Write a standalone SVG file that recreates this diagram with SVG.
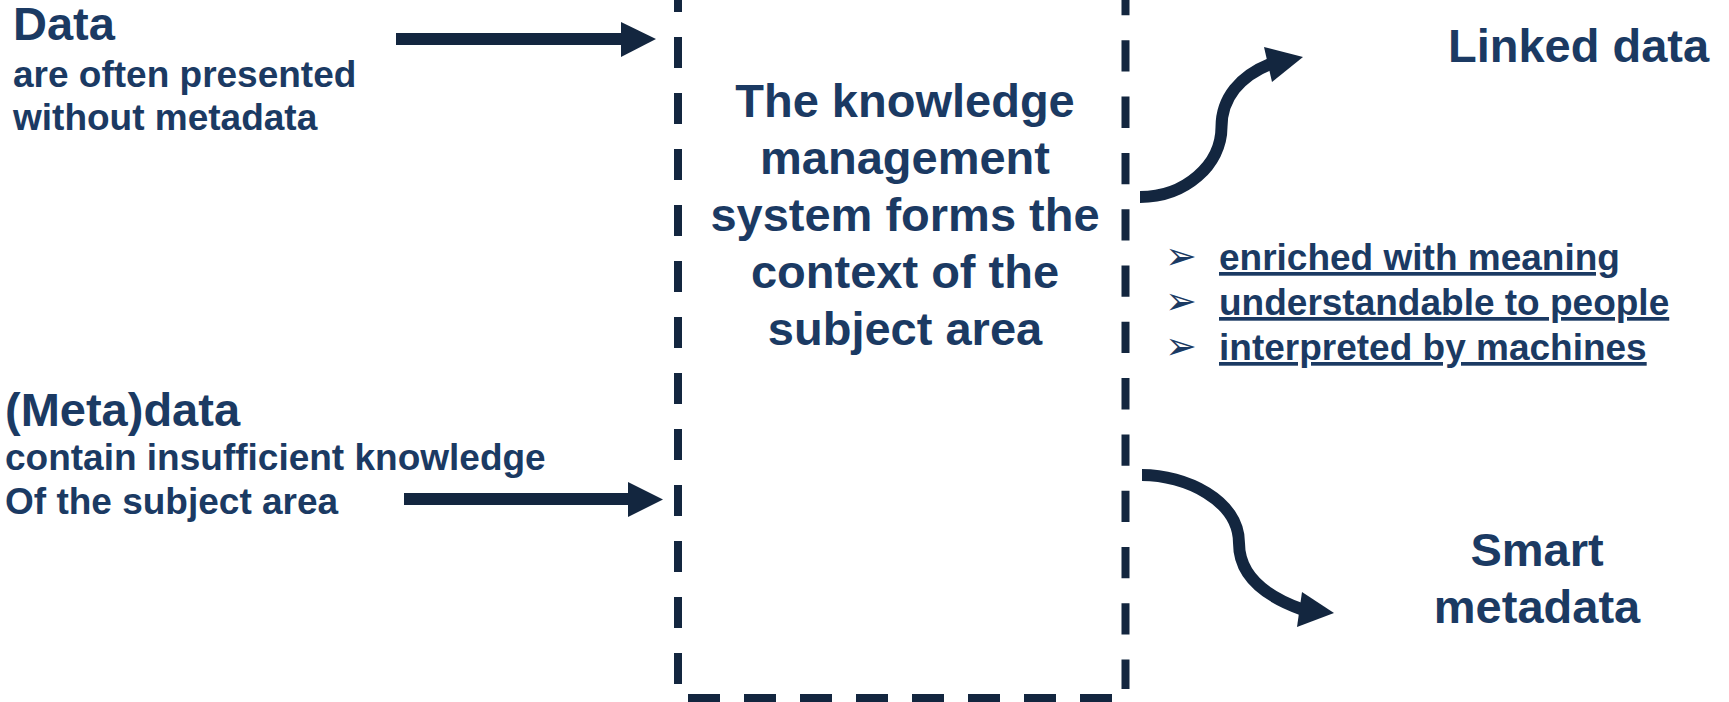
<svg xmlns="http://www.w3.org/2000/svg" width="1729" height="702" viewBox="0 0 1729 702">
<style>
.t{font-family:"Liberation Sans",Arial,sans-serif;font-weight:bold;fill:#1B3A63}
.h{font-size:47px}
.s{font-size:37px}
.c{font-size:47px;text-anchor:middle}
.u{text-decoration:underline}
.b{font-family:"DejaVu Sans",sans-serif;font-size:38px;fill:#1B3A63}
.dash{stroke:#13263F;stroke-width:8;fill:none}
.shaft{stroke:#13263F;stroke-width:12;fill:none}
.head{fill:#13263F}
</style>
<rect width="1729" height="702" fill="#FFFFFF"/>
<g id="box">
<line class="dash" x1="678" y1="-19" x2="678" y2="686" stroke-dasharray="31 25"/>
<line class="dash" x1="1125.5" y1="-16" x2="1125.5" y2="689" stroke-dasharray="31.3 25"/>
<line class="dash" x1="688" y1="698" x2="1114" y2="698" stroke-dasharray="32 24"/>
<text class="t c" x="905" y="117">The knowledge</text>
<text class="t c" x="905" y="174">management</text>
<text class="t c" x="905" y="231">system forms the</text>
<text class="t c" x="905" y="288">context of the</text>
<text class="t c" x="905" y="345">subject area</text>
</g>
<g id="data">
<text class="t h" x="13" y="40">Data</text>
<text class="t s" x="13" y="87">are often presented</text>
<text class="t s" x="13" y="130">without metadata</text>
</g>
<g id="metadata">
<text class="t h" x="5" y="426">(Meta)data</text>
<text class="t s" x="5" y="470">contain insufficient knowledge</text>
<text class="t s" x="5" y="514">Of the subject area</text>
</g>
<g id="linked">
<text class="t h" x="1448" y="62">Linked data</text>
<text class="b" x="1165" y="269">➢</text>
<text class="b" x="1165" y="314">➢</text>
<text class="b" x="1165" y="359">➢</text>
<text class="t s u" x="1219" y="270">enriched with meaning</text>
<text class="t s u" x="1219" y="315">understandable to people</text>
<text class="t s u" x="1219" y="360">interpreted by machines</text>
</g>
<g id="smart">
<text class="t c" x="1537" y="566">Smart</text>
<text class="t c" x="1537" y="623">metadata</text>
</g>
<g id="connectors">
<line class="shaft" x1="396" y1="39" x2="623" y2="39"/>
<polygon class="head" points="621,22 656,39 621,57"/>
<line class="shaft" x1="404" y1="499" x2="630" y2="499"/>
<polygon class="head" points="628,482 663,499.5 628,517"/>
<path class="shaft" d="M1140,197 C1185,197 1221.5,165 1221.5,127 C1221.5,98 1240,76 1270,64"/>
<polygon class="head" points="1264,47 1303,57 1272,82"/>
<path class="shaft" d="M1142,475 C1185,475 1239,500 1239,543 C1239,575 1265,596 1301,609"/>
<polygon class="head" points="1302,592 1334,613 1297,627"/>
</g>
</svg>
